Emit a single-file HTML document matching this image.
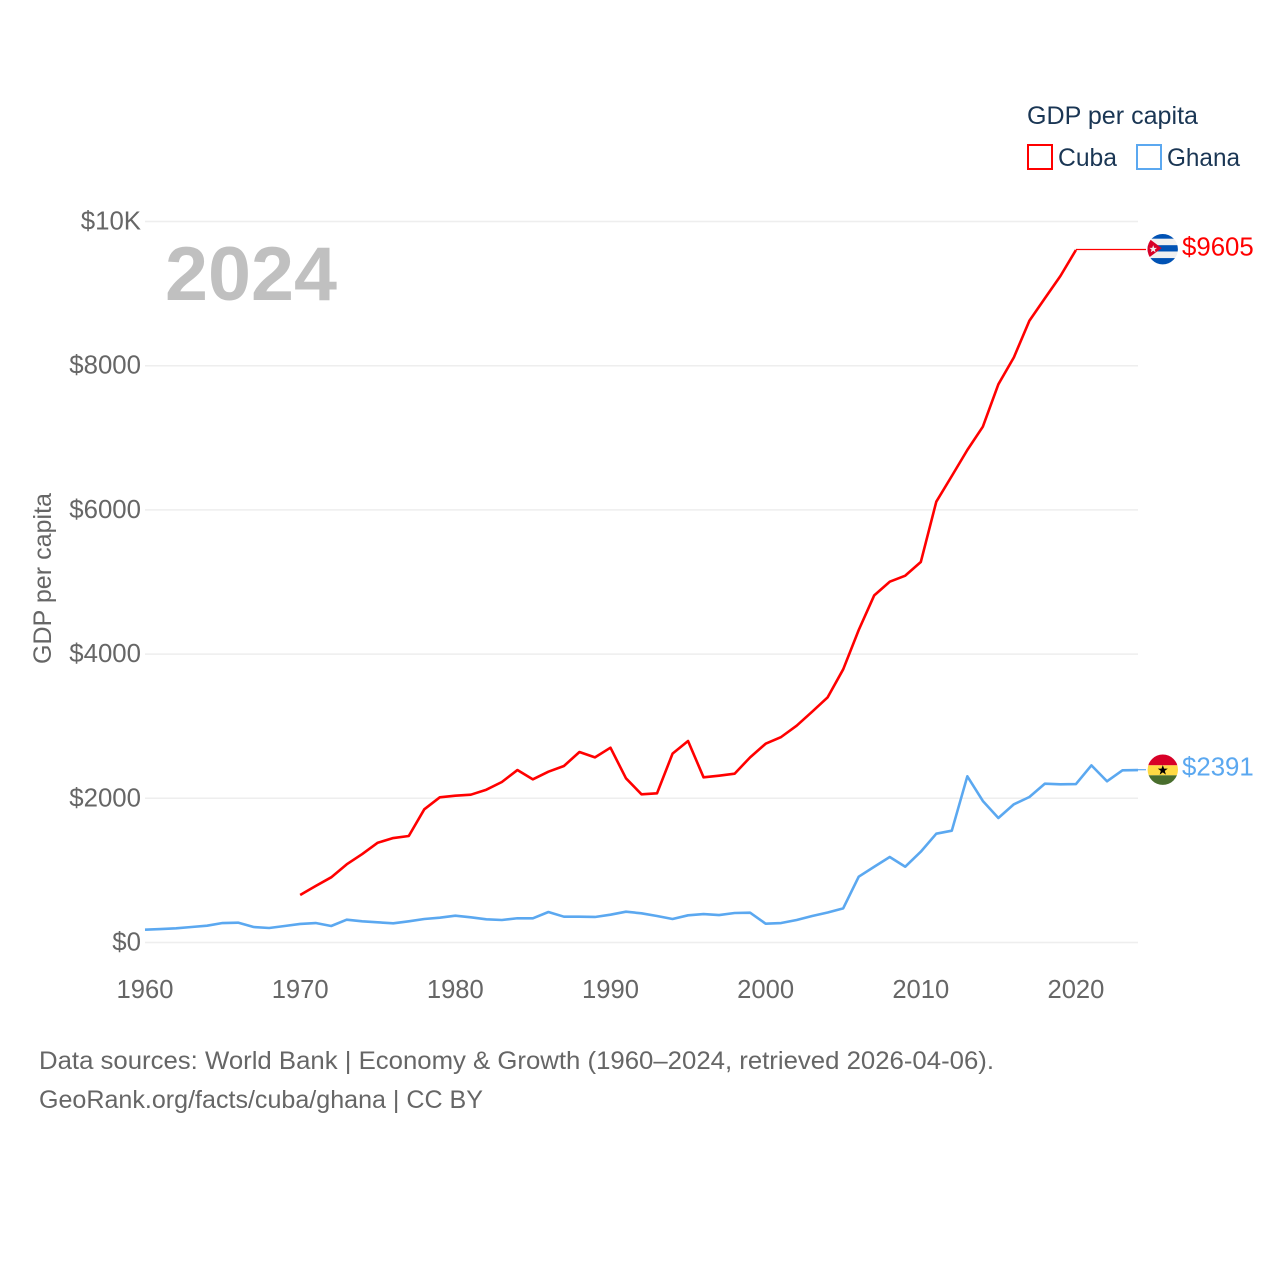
<!DOCTYPE html>
<html lang="en">
<head>
<meta charset="utf-8">
<title>GDP per capita: Cuba and Ghana</title>
<style>
html,body{margin:0;padding:0;background:#fff;}
svg{display:block;}
text{font-family:"Liberation Sans",sans-serif;}
</style>
</head>
<body>
<svg id="chart" xmlns="http://www.w3.org/2000/svg" width="1280" height="1280" viewBox="0 0 1280 1280">
  <defs>
    <clipPath id="flag-clip"><circle cx="0" cy="0" r="15.2"></circle></clipPath>
  </defs>
  <rect x="0" y="0" width="1280" height="1280" fill="#ffffff"></rect>

  <g id="grid"></g>
  <g id="y-ticks"></g>
  <g id="x-ticks"></g>

  <text x="165" y="300" font-size="76" font-weight="700" fill="#c0c0c0" textLength="172" lengthAdjust="spacingAndGlyphs">2024</text>
  <text transform="translate(51,578.5) rotate(-90)" text-anchor="middle" font-size="25" fill="#666666" textLength="171" lengthAdjust="spacingAndGlyphs">GDP per capita</text>

  <g id="series"></g>

  <g id="flag-cuba">
    <g clip-path="url(#flag-clip)">
      <rect x="-16" y="-16" width="32" height="32" fill="#f0f0f0"></rect>
      <rect x="-16" y="-16" width="32" height="5.5" fill="#0052b4"></rect>
      <rect x="-16" y="-4" width="32" height="6.3" fill="#0052b4"></rect>
      <rect x="-16" y="8.9" width="32" height="7.1" fill="#0052b4"></rect>
      <polygon points="-16,-11.5 -15,-11.5 -1,-1 -15,9.3 -16,9.3" fill="#d80027"></polygon>
      <polygon points="-9.5,-4 -8.5,-1.3 -5.7,-1.3 -7.9,0.5 -7.1,3.2 -9.5,1.6 -11.9,3.2 -11.1,0.5 -13.3,-1.3 -10.5,-1.3" fill="#f0f0f0"></polygon>
    </g>
  </g>
  <g id="flag-ghana">
    <g clip-path="url(#flag-clip)">
      <rect x="-16" y="-16" width="32" height="11.6" fill="#d80027"></rect>
      <rect x="-16" y="-4.4" width="32" height="10" fill="#ffda44"></rect>
      <rect x="-16" y="5.6" width="32" height="10.4" fill="#496e2d"></rect>
      <polygon points="0,-4.6 1.3,-1.1 5,-1.1 2,1.2 3.1,4.9 0,2.7 -3.1,4.9 -2,1.2 -5,-1.1 -1.3,-1.1" fill="#000000"></polygon>
    </g>
  </g>

  <text id="label-cuba" x="1182" font-size="25.8" fill="#ff0000">$9605</text>
  <text id="label-ghana" x="1182" font-size="25.8" fill="#5ba8f0">$2391</text>

  <g>
    <text x="1027" y="124" font-size="25" fill="#1a3654" textLength="171" lengthAdjust="spacingAndGlyphs">GDP per capita</text>
    <g>
      <rect x="1028" y="145" width="24" height="24" fill="none" stroke="#ff0000" stroke-width="2"></rect>
      <text x="1058" y="166" font-size="25" fill="#1a3654" textLength="59" lengthAdjust="spacingAndGlyphs">Cuba</text>
    </g>
    <g>
      <rect x="1137" y="145" width="24" height="24" fill="none" stroke="#5ba8f0" stroke-width="2"></rect>
      <text x="1167" y="166" font-size="25" fill="#1a3654" textLength="73" lengthAdjust="spacingAndGlyphs">Ghana</text>
    </g>
  </g>

  <text x="39" y="1069" font-size="25" fill="#666666" textLength="955" lengthAdjust="spacingAndGlyphs">Data sources: World Bank | Economy &amp; Growth (1960–2024, retrieved 2026-04-06).</text>
  <text x="39" y="1108" font-size="25" fill="#666666" textLength="444" lengthAdjust="spacingAndGlyphs">GeoRank.org/facts/cuba/ghana | CC BY</text>
</svg>

<script>
const years = [1960,1961,1962,1963,1964,1965,1966,1967,1968,1969,1970,1971,1972,1973,1974,1975,1976,1977,1978,1979,1980,1981,1982,1983,1984,1985,1986,1987,1988,1989,1990,1991,1992,1993,1994,1995,1996,1997,1998,1999,2000,2001,2002,2003,2004,2005,2006,2007,2008,2009,2010,2011,2012,2013,2014,2015,2016,2017,2018,2019,2020,2021,2022,2023,2024];
const cubaValues = [null,null,null,null,null,null,null,null,null,null,659,784,904,1084,1227,1384,1449,1477,1847,2014,2036,2050,2119,2226,2392,2263,2369,2448,2642,2568,2702,2277,2055,2069,2619,2795,2291,2314,2341,2568,2757,2850,3007,3201,3401,3789,4334,4815,5004,5088,5277,6114,6470,6831,7154,7742,8116,8624,8935,9244,9605,null,null,null,null];
const ghanaValues = [178,187,197,215,233,270,275,215,201,229,257,270,229,316,294,280,266,294,326,344,372,349,322,312,336,336,423,358,358,354,386,427,405,368,326,377,395,381,409,413,261,270,312,368,416,474,913,1051,1186,1051,1259,1509,1551,2305,1963,1727,1917,2018,2203,2194,2198,2457,2236,2388,2391];
const yTickValues = [0,2000,4000,6000,8000,10000];
const yTickLabels = ["$0","$2000","$4000","$6000","$8000","$10K"];
const xTickValues = [1960,1970,1980,1990,2000,2010,2020];
const xTickLabels = ["1960","1970","1980","1990","2000","2010","2020"];

const NS = "http://www.w3.org/2000/svg";
const xScale = function (year) { return 145 + (year - 1960) * (1138 - 145) / 64; };
const yScale = function (value) { return 942.5 - value * (942.5 - 221.5) / 10000; };

function make(tag, attrs, parent) {
  const el = document.createElementNS(NS, tag);
  Object.keys(attrs).forEach(function (k) { el.setAttribute(k, attrs[k]); });
  parent.appendChild(el);
  return el;
}

const gridGroup = document.getElementById("grid");
const yTickGroup = document.getElementById("y-ticks");
yTickValues.forEach(function (v, i) {
  const line = make("line", { x1: 145, x2: 1138, y1: yScale(v), y2: yScale(v), stroke: "#eeeeee", "stroke-width": 1.5 }, gridGroup);
  
  
  const label = make("text", { x: 141, y: yScale(v) + 8, "text-anchor": "end", "font-size": 25.8, fill: "#666666" }, yTickGroup);
  label.textContent = yTickLabels[i];
  
  
});

const xTickGroup = document.getElementById("x-ticks");
xTickValues.forEach(function (v, i) {
  const label = make("text", { x: xScale(v), y: 998, "text-anchor": "middle", "font-size": 25.6, fill: "#666666" }, xTickGroup);
  label.textContent = xTickLabels[i];
  
  
});

function linePath(values) {
  let d = "";
  values.forEach(function (v, i) {
    if (v === null) return;
    d += (d === "" ? "M" : "L") + xScale(years[i]).toFixed(2) + " " + yScale(v).toFixed(2);
  });
  return d;
}

function lastIndex(values) {
  let idx = 0;
  values.forEach(function (v, i) { if (v !== null) idx = i; });
  return idx;
}

const seriesGroup = document.getElementById("series");

const cubaLine = make("path", { d: linePath(cubaValues), fill: "none", stroke: "#ff0000", "stroke-width": 2.6, "stroke-linejoin": "round" }, seriesGroup);



const ghanaLine = make("path", { d: linePath(ghanaValues), fill: "none", stroke: "#5ba8f0", "stroke-width": 2.6, "stroke-linejoin": "round" }, seriesGroup);



const cubaLast = lastIndex(cubaValues);
const ghanaLast = lastIndex(ghanaValues);
const cubaY = yScale(cubaValues[cubaLast]);
const ghanaY = yScale(ghanaValues[ghanaLast]);

const cubaLeaderY = Math.floor(cubaY) + 0.5;
const cubaLeader = make("line", { x1: xScale(years[cubaLast]), x2: 1146, y1: cubaLeaderY, y2: cubaLeaderY, stroke: "#ff0000", "stroke-width": 1.2 }, seriesGroup);



const ghanaLeader = make("line", { x1: xScale(years[ghanaLast]), x2: 1146, y1: ghanaY - 0.4, y2: ghanaY - 0.4, stroke: "#5ba8f0", "stroke-width": 1.2 }, seriesGroup);



document.getElementById("flag-cuba").setAttribute("transform", "translate(1162.7," + (cubaY - 0.8) + ")");
document.getElementById("flag-ghana").setAttribute("transform", "translate(1162.8," + (ghanaY - 0.4) + ")");

const cubaLabel = document.getElementById("label-cuba");
cubaLabel.setAttribute("y", cubaY + 5.5);
cubaLabel.textContent = "$" + cubaValues[cubaLast];
const ghanaLabel = document.getElementById("label-ghana");
ghanaLabel.setAttribute("y", ghanaY + 5.5);
ghanaLabel.textContent = "$" + ghanaValues[ghanaLast];
</script>
</body>
</html>
